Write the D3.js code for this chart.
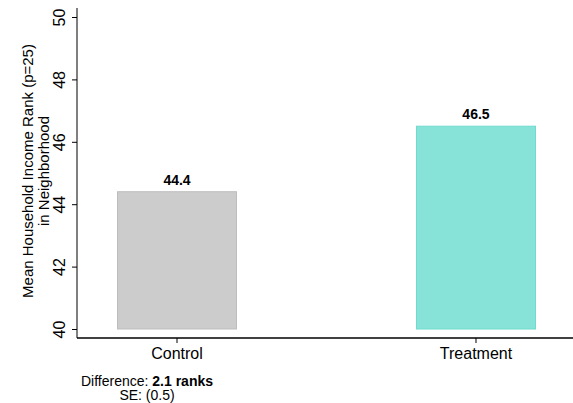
<!DOCTYPE html>
<html><head><meta charset="utf-8">
<script src="https://cdn.jsdelivr.net/npm/d3@7"></script>
<style>body{margin:0;background:#fff;} svg{display:block;font-family:"Liberation Sans",Arial,sans-serif;}</style>
</head><body>
<svg id="c" width="573" height="403"></svg>
<script>
const categories = ["Control", "Treatment"];
const values = [44.4, 46.5];
const valueLabels = ["44.4", "46.5"];
const yTicks = [40, 42, 44, 46, 48, 50];
const fills = ["#cccccc", "#87e3d8"];
const strokes = ["#bdbdbd", "#6fdacd"];

const svg = d3.select("#c");
const left = 77, right = 576, bottomAxis = 338;
const y = d3.scaleLinear().domain([40, 50]).range([329, 17]);
const x = d3.scaleBand().domain(categories).range([left, right]).paddingInner(0.602).paddingOuter(0.1355);

// bars
svg.selectAll("rect.bar").data(categories).join("rect")
  .attr("x", d => x(d)).attr("width", x.bandwidth())
  .attr("y", (d, i) => y(values[i])).attr("height", (d, i) => y(40) - y(values[i]))
  .attr("fill", (d, i) => fills[i]).attr("stroke", (d, i) => strokes[i]).attr("stroke-width", 1);

svg.selectAll("text.val").data(categories).join("text")
  .attr("x", d => x(d) + x.bandwidth() / 2).attr("y", (d, i) => y(values[i]) - 7)
  .attr("text-anchor", "middle").attr("font-size", 14).attr("font-weight", "bold").attr("fill", "#000")
  .text((d, i) => valueLabels[i]);

// y axis
const yAxis = svg.append("g").attr("transform", `translate(${left},0)`)
  .call(d3.axisLeft(y).tickValues(yTicks).tickSize(5).tickSizeOuter(0).tickFormat(d3.format("d")));
yAxis.select(".domain").remove();
yAxis.append("line").attr("x1", 0).attr("x2", 0).attr("y1", 8).attr("y2", bottomAxis).attr("stroke", "#000");
yAxis.selectAll(".tick line").attr("stroke", "#000");
yAxis.selectAll(".tick text")
  .attr("x", 0).attr("y", 0).attr("dx", 0).attr("dy", 0)
  .attr("text-anchor", "middle").attr("font-size", 16).attr("fill", "#000")
  .attr("font-family", "Liberation Sans, Arial, sans-serif")
  .attr("transform", "translate(-12.5,0) rotate(-90)");

// x axis
const xAxis = svg.append("g").attr("transform", `translate(0,${bottomAxis})`)
  .call(d3.axisBottom(x).tickSize(5).tickSizeOuter(0));
xAxis.select(".domain").remove();
xAxis.append("line").attr("x1", left).attr("x2", 573).attr("y1", 0).attr("y2", 0).attr("stroke", "#000").attr("stroke-width", 1.5);
xAxis.selectAll(".tick line").attr("stroke", "#000");
xAxis.selectAll(".tick text").attr("font-size", 16).attr("fill", "#000").attr("dy", 0).attr("y", 21)
  .attr("font-family", "Liberation Sans, Arial, sans-serif");

// y title
const yt = svg.append("text").attr("transform", "translate(0,171) rotate(-90)")
  .attr("text-anchor", "middle").attr("font-size", 15).attr("fill", "#000");
yt.append("tspan").attr("x", 0).attr("y", 33).text("Mean Household Income Rank (p=25)");
yt.append("tspan").attr("x", 0).attr("y", 48.5).text("in Neighborhood");

// note
const note = svg.append("text").attr("x", 147).attr("y", 386).attr("text-anchor", "middle").attr("font-size", 14).attr("fill", "#000");
note.append("tspan").text("Difference: ");
note.append("tspan").attr("font-weight", "bold").text("2.1 ranks");
svg.append("text").attr("x", 147).attr("y", 400).attr("text-anchor", "middle").attr("font-size", 14).attr("fill", "#000").text("SE: (0.5)");
</script>
</body></html>
